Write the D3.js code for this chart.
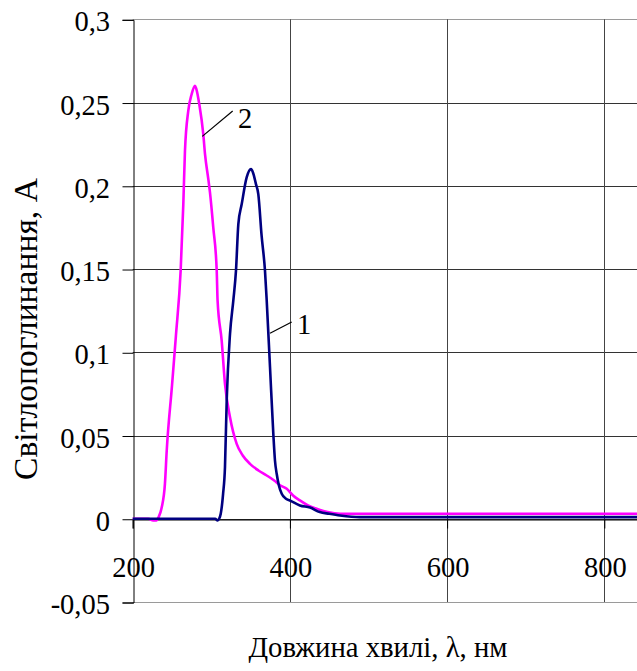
<!DOCTYPE html>
<html><head><meta charset="utf-8">
<script src="https://cdn.jsdelivr.net/npm/d3@7/dist/d3.min.js"></script>
</head><body style="margin:0">
<svg id="c" width="637" height="671" font-family="Liberation Serif" style="font-family:'Liberation Serif'"></svg>
<script>
// Data
const wl1 = [200,250,300,305,308,310,312,315,317.4,319.6,323.8,328,331.4,334.4,338.7,345,350.5,353,356.8,359.8,364,368.3,370.5,374.7,378.9,381,383.2,386,389.6,395,400,412.7,425.6,438,450,463.8,489,520,600,700,800,900,1000];
const a1  = [0,0,0,0,-0.001,0,0.003,0.015,0.031,0.071,0.111,0.131,0.149,0.177,0.189,0.205,0.21,0.208,0.201,0.195,0.17,0.149,0.131,0.091,0.051,0.035,0.027,0.02,0.015,0.012,0.011,0.008,0.0067,0.004,0.003,0.002,0.001,0.001,0.001,0.001,0.001,0.001,0.001];
const wl2 = [200,220,226,230,233,237,241,243.3,250,255,261,264.4,266.5,270.7,275,279.3,281,284.7,289.8,292,296.2,298.3,302.5,306.9,308,313.2,317.4,323.8,332.3,340,349.2,360,370.5,380,388,396,404,412.7,423,434,448,464,500,600,700,800,900,1000];
const a2  = [0,0,-0.001,-0.001,0.001,0.007,0.021,0.041,0.08,0.11,0.149,0.189,0.221,0.245,0.255,0.26,0.258,0.249,0.231,0.219,0.204,0.196,0.175,0.149,0.131,0.107,0.081,0.061,0.045,0.038,0.033,0.029,0.026,0.023,0.02,0.018,0.014,0.011,0.008,0.006,0.004,0.003,0.003,0.003,0.003,0.003,0.003,0.003];
const xTicks = [200,400,600,800,1000];
const yTicks = [-0.05,0,0.05,0.1,0.15,0.2,0.25,0.3];
const yTickLabels = ["-0,05","0","0,05","0,1","0,15","0,2","0,25","0,3"];
const seriesNames = ["1","2"];
// annotation anchors (data coords): [lineStartX, lineStartY, lineEndX, lineEndY, textX, textY]
const ann1 = [374.7,0.1114,402.3,0.1182,409,0.111];
const ann2 = [288.5,0.2297,327.2,0.2449,334,0.235];

const FONT = "'Liberation Serif'";
const svg = d3.select("#c");
const x = d3.scaleLinear().domain([200,1000]).range([132.7,761.5]);
const y = d3.scaleLinear().domain([-0.05,0.3]).range([602,19.3]);
function txt(g, tx, ty, str, anchor, size){
  return g.append("text").attr("x",tx).attr("y",ty)
    .attr("font-family","Liberation Serif")
    .attr("text-anchor",anchor).style("font-family",FONT).style("font-size",size+"px").style("fill","#000").text(str);
}
function fit(t, target){
  const len = t.node().getComputedTextLength();
  const fs = parseFloat(t.style("font-size"));
  if (len > 0) t.style("font-size", (fs*target/len)+"px");
}

// horizontal gridlines
svg.append("g").selectAll("line").data(yTicks).join("line")
  .attr("x1",x(200)).attr("x2",x(1000))
  .attr("y1",d=>Math.round(y(d))+0.5).attr("y2",d=>Math.round(y(d))+0.5)
  .attr("stroke",d=>(d===-0.05||d===0.3)?"#9a9a9a":"#333").attr("stroke-width",1);
// vertical gridlines
svg.append("g").selectAll("line").data(xTicks.slice(1)).join("line")
  .attr("x1",d=>Math.round(x(d))+0.5).attr("x2",d=>Math.round(x(d))+0.5)
  .attr("y1",y(0.3)).attr("y2",y(-0.05))
  .attr("stroke","#444").attr("stroke-width",1);

// y axis
const yAxis = d3.axisLeft(y).tickValues(yTicks).tickSize(11).tickFormat("");
const gy = svg.append("g").attr("transform",`translate(${Math.round(x(200))+0.5},0.5)`).call(yAxis);
gy.attr("font-family",null).attr("font-size",null);
gy.selectAll(".tick text").remove();
gy.select(".domain").attr("stroke","#000");
gy.selectAll(".tick line").attr("stroke","#000");
// x axis at zero
const xAxis = d3.axisBottom(x).tickValues(xTicks).tickSize(9).tickFormat("");
const gx = svg.append("g").attr("transform",`translate(0,${Math.round(y(0))+0.5})`).call(xAxis);
gx.attr("font-family",null).attr("font-size",null);
gx.selectAll(".tick text").remove();
gx.select(".domain").attr("stroke","#000");
gx.selectAll(".tick line").attr("stroke","#000");

// tick labels
const labG = svg.append("g");
yTicks.forEach((t,i)=>txt(labG, 110, y(t)+12, yTickLabels[i], "end", 28.5));
xTicks.forEach(t=>txt(labG, x(t)+1, 577, String(t), "middle", 28.5));

// curves
const line = d3.line().x(d=>x(d[0])).y(d=>y(d[1])).curve(d3.curveMonotoneX);
const d1 = wl1.map((w,i)=>[w,a1[i]]);
const d2 = wl2.map((w,i)=>[w,a2[i]]);
svg.append("path").datum(d2).attr("d",line).attr("fill","none").attr("stroke","#ff00ff").attr("stroke-width",2.6).attr("stroke-linejoin","round");
svg.append("path").datum(d1).attr("d",line).attr("fill","none").attr("stroke","#000080").attr("stroke-width",2.6).attr("stroke-linejoin","round");

// annotations
[[ann1,seriesNames[0]],[ann2,seriesNames[1]]].forEach(([a,n])=>{
  svg.append("line").attr("x1",x(a[0])).attr("y1",y(a[1])).attr("x2",x(a[2])).attr("y2",y(a[3]))
    .attr("stroke","#000").attr("stroke-width",1.2);
  txt(svg, x(a[4]), y(a[5]), n, "start", 28.5);
});

// axis titles
const xt = txt(svg, 378, 657, "Довжина хвилі, λ, нм", "middle", 27);
fit(xt, 259);
const yg = svg.append("g").attr("transform","translate(37,329) rotate(-90)");
const yt = txt(yg, 0, 0, "Світлопоглинання, A", "middle", 28);
fit(yt, 302);
</script>
</body></html>
